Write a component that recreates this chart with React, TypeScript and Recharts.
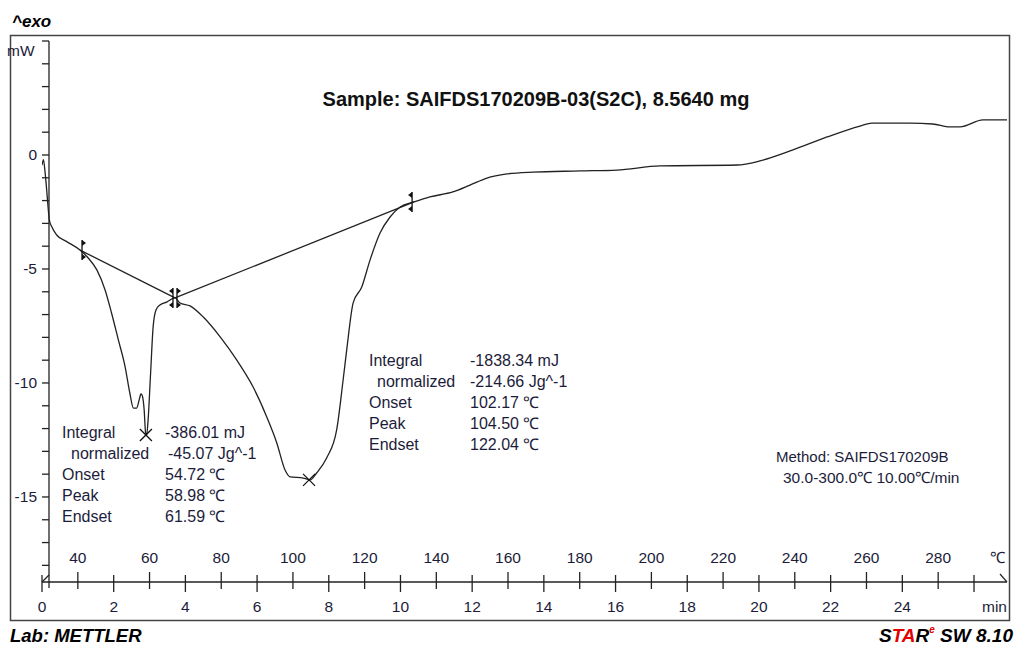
import React from "react";
import { ComposedChart, Line, Scatter, XAxis, YAxis } from "recharts";

// DSC trace: time (min) vs heat flow (mW)
const timeMin = [
  0.0, 0.04, 0.084, 0.131, 0.176, 0.204, 0.27, 0.41, 0.69, 1.06,
  1.29, 1.53, 1.76, 1.94, 2.13, 2.32, 2.45, 2.55, 2.64, 2.71,
  2.76, 2.8, 2.85, 2.89, 2.92, 2.96, 3.03, 3.1, 3.18, 3.29,
  3.48, 3.71, 3.85, 4.13, 4.5, 4.97, 5.43, 5.89, 6.27, 6.55,
  6.78, 6.92, 7.29, 7.48, 7.66, 7.94, 8.22, 8.4, 8.51, 8.68,
  8.92, 9.15, 9.43, 9.71, 9.99, 10.38, 10.82, 11.46, 11.94, 12.41,
  12.97, 13.7, 15.01, 16.04, 17.24, 19.39, 20.03, 20.95, 21.9, 22.82,
  23.15, 24.21, 24.85, 25.33, 25.61, 26.25, 26.92,
];
const heatFlowMw = [
  -0.45, -0.2, -0.73, -1.54, -2.41, -2.85, -3.14, -3.51, -3.8, -4.17,
  -4.52, -5.04, -5.92, -6.93, -8.11, -9.3, -10.44, -11.1, -11.1, -10.75,
  -10.48, -10.57, -11.18, -12.19, -12.28, -11.62, -9.56, -7.54, -6.8, -6.58,
  -6.45, -6.27, -6.49, -6.62, -7.11, -7.98, -8.99, -10.18, -11.49, -12.63,
  -13.82, -14.12, -14.17, -14.25, -13.95, -13.29, -12.06, -9.87, -8.42, -6.49,
  -5.79, -4.61, -3.42, -2.72, -2.28, -2.06, -1.84, -1.62, -1.32, -1.01,
  -0.83, -0.75, -0.7, -0.66, -0.48, -0.44, -0.26, 0.22, 0.79, 1.27,
  1.4, 1.4, 1.36, 1.23, 1.23, 1.54, 1.54,
];

// integration baselines (limits in min, mW)
const baseline1Time = [1.06, 3.71];
const baseline1Mw = [-4.17, -6.27];
const baseline2Time = [3.71, 10.38];
const baseline2Mw = [-6.27, -2.06];

// peak temperatures from the result tables
const peakTempC = [58.98, 104.5];
const peakMw = [-12.28, -14.25];

const timeTicks = [0, 2, 4, 6, 8, 10, 12, 14, 16, 18, 20, 22, 24, 26];
const tempTicks = [40, 60, 80, 100, 120, 140, 160, 180, 200, 220, 240, 260, 280];
const mwTicks = [
  -18, -17, -16, -15, -14, -13, -12, -11, -10, -9, -8, -7, -6, -5, -4, -3, -2,
  -1, 0, 1, 2, 3, 4, 5,
];
const mwLabels = [0, -5, -10, -15];

const dsc = timeMin.map((t, i) => ({ t, mw: heatFlowMw[i] }));
const base1 = baseline1Time.map((t, i) => ({ t, mw: baseline1Mw[i] }));
const base2 = baseline2Time.map((t, i) => ({ t, mw: baseline2Mw[i] }));
const peaks = peakTempC.map((temp, i) => ({ temp, mw: peakMw[i] }));

const FONT = '"Liberation Sans", Arial, sans-serif';
const INK = "#222";
const TXT = "#1c1c3a";
const AXIS_X = 49;

// the time axis sits 1px below the temperature axis (stacked bottom axes)
function TimeTick(props: any) {
  const { x, payload } = props;
  const y = props.y - 1;
  return (
    <g>
      <line x1={x} x2={x} y1={y - 7} y2={y + 10} stroke={INK} strokeWidth={1.3} />
      {payload.value !== 26 && (
        <text x={x} y={y + 24} textAnchor="middle" dominantBaseline="central"
          fontFamily={FONT} fontSize={15.5} fill={TXT}>
          {payload.value}
        </text>
      )}
    </g>
  );
}

function TempTick(props: any) {
  const { x, y, payload } = props;
  return (
    <g>
      <line x1={x} x2={x} y1={y - 10} y2={y + 7} stroke={INK} strokeWidth={1.3} />
      <text x={x} y={y - 25} textAnchor="middle" dominantBaseline="central"
        fontFamily={FONT} fontSize={15.5} fill={TXT}>
        {payload.value}
      </text>
    </g>
  );
}

function MwTick(props: any) {
  const { y, payload } = props;
  return (
    <g>
      <line x1={AXIS_X - 7} x2={AXIS_X} y1={y} y2={y} stroke={INK} strokeWidth={1.3} />
      {mwLabels.includes(payload.value) && (
        <text x={37} y={y} textAnchor="end" dominantBaseline="central"
          fontFamily={FONT} fontSize={15.5} fill={TXT}>
          {payload.value}
        </text>
      )}
    </g>
  );
}

// limit marker: vertical bar with small flags pointing into the integration range
function limitMarker(side: number) {
  return (props: any) => {
    const { cx, cy, index } = props;
    const s = index === 0 ? side : -side;
    const x = cx + s * 2;
    return (
      <g key={`m-${index}`}>
        <line x1={x} x2={x} y1={cy - 10} y2={cy + 10} stroke="#111" strokeWidth={1.3} />
        <polygon points={`${x},${cy - 10} ${x},${cy - 4} ${x + s * 4},${cy - 7}`} fill="#111" />
        <polygon points={`${x},${cy + 10} ${x},${cy + 4} ${x + s * 4},${cy + 7}`} fill="#111" />
      </g>
    );
  };
}

function Cross(props: any) {
  const { cx, cy } = props;
  return (
    <g>
      <line x1={cx - 6} x2={cx + 6} y1={cy - 6} y2={cy + 6} stroke="#111" strokeWidth={1.3} />
      <line x1={cx - 6} x2={cx + 6} y1={cy + 6} y2={cy - 6} stroke="#111" strokeWidth={1.3} />
    </g>
  );
}

function T({ x, y, children, bold, italic, size = 16, anchor = "start", fill = TXT }: any) {
  return (
    <text x={x} y={y} textAnchor={anchor} dominantBaseline="central" fontFamily={FONT}
      fontSize={size} fontWeight={bold ? "bold" : "normal"}
      fontStyle={italic ? "italic" : "normal"} fill={fill}>
      {children}
    </text>
  );
}

export default function App() {
  const rows1 = [
    ["Integral", "-386.01 mJ", 62],
    ["normalized", "-45.07 Jg^-1", 71],
    ["Onset", "54.72 ℃", 62],
    ["Peak", "58.98 ℃", 62],
    ["Endset", "61.59 ℃", 62],
  ];
  const rows2 = [
    ["Integral", "-1838.34 mJ", 369],
    ["normalized", "-214.66 Jg^-1", 377],
    ["Onset", "102.17 ℃", 369],
    ["Peak", "104.50 ℃", 369],
    ["Endset", "122.04 ℃", 369],
  ];
  return (
    <div style={{ position: "absolute", left: 0, top: 0, width: 1016, height: 646, background: "#fff" }}>
      <ComposedChart width={1016} height={646} margin={{ top: 41, right: 9, bottom: 62, left: 41 }}>
        <XAxis xAxisId="temp" dataKey="temp" type="number" domain={[30, 299.2]} allowDataOverflow
          ticks={tempTicks} interval={0} height={1} tickSize={0} tickMargin={0}
          axisLine={{ stroke: INK, strokeWidth: 1.3 }} tickLine={false} tick={<TempTick />} />
        <XAxis xAxisId="time" dataKey="t" type="number" domain={[0, 26.92]} allowDataOverflow
          ticks={timeTicks} interval={0} height={1} tickSize={0} tickMargin={0}
          axisLine={false} tickLine={false} tick={<TimeTick />} />
        <YAxis yAxisId="mw" dataKey="mw" type="number" domain={[-18.73, 5]} allowDataOverflow
          ticks={mwTicks} interval={0} width={1} tickSize={0} tickMargin={0}
          axisLine={false} tickLine={false} tick={<MwTick />} />
        <Line xAxisId="time" yAxisId="mw" data={base1} dataKey="mw" type="linear"
          stroke={INK} strokeWidth={1.3} dot={limitMarker(1)} isAnimationActive={false} />
        <Line xAxisId="time" yAxisId="mw" data={base2} dataKey="mw" type="linear"
          stroke={INK} strokeWidth={1.3} dot={limitMarker(1)} isAnimationActive={false} />
        <Line xAxisId="time" yAxisId="mw" data={dsc} dataKey="mw" type="monotone"
          stroke={INK} strokeWidth={1.3} dot={false} isAnimationActive={false} />
        <Scatter xAxisId="temp" yAxisId="mw" data={peaks} dataKey="mw"
          shape={<Cross />} isAnimationActive={false} />
      </ComposedChart>
      <svg width={1016} height={646} style={{ position: "absolute", left: 0, top: 0, pointerEvents: "none" }}>
        <rect x={10.5} y={35.5} width={999} height={585} fill="none" stroke="#444" strokeWidth={1.5} />
        <line x1={AXIS_X} x2={AXIS_X} y1={41} y2={588} stroke={INK} strokeWidth={1.3} />
        <line x1={42} x2={49} y1={582} y2={575} stroke={INK} strokeWidth={1.2} />
        <line x1={1000} x2={1007} y1={574} y2={582} stroke={INK} strokeWidth={1.2} />
        <T x={12} y={21} bold italic size={17} fill="#000">^exo</T>
        <T x={7} y={50} size={15.5}>mW</T>
        <T x={997} y={557} anchor="middle" size={15.5}>℃</T>
        <T x={1007} y={606} anchor="end" size={15.5}>min</T>
        <T x={536} y={99} bold size={20} anchor="middle" fill="#111">
          Sample: SAIFDS170209B-03(S2C), 8.5640 mg
        </T>
        {rows1.map((r, i) => (
          <g key={`a${i}`}>
            <T x={r[2]} y={432 + i * 21}>{r[0]}</T>
            <T x={i === 1 ? 168 : 165} y={432 + i * 21}>{r[1]}</T>
          </g>
        ))}
        {rows2.map((r, i) => (
          <g key={`b${i}`}>
            <T x={r[2]} y={360 + i * 21}>{r[0]}</T>
            <T x={470} y={360 + i * 21}>{r[1]}</T>
          </g>
        ))}
        <T x={776} y={456} size={15}>Method: SAIFDS170209B</T>
        <T x={783} y={477} size={15.5}>30.0-300.0℃ 10.00℃/min</T>
        <T x={10} y={635} bold italic size={18.5} fill="#000">Lab: METTLER</T>
        <text x={1013} y={635} textAnchor="end" dominantBaseline="central" fontFamily={FONT}
          fontSize={19} fontWeight="bold" fontStyle="italic" fill="#000">
          <tspan>S</tspan>
          <tspan fill="#e00000">TA</tspan>
          <tspan>R</tspan>
          <tspan fill="#e00000" fontSize={10} dy={-6}>e</tspan>
          <tspan dy={6}> SW 8.10</tspan>
        </text>
      </svg>
    </div>
  );
}
